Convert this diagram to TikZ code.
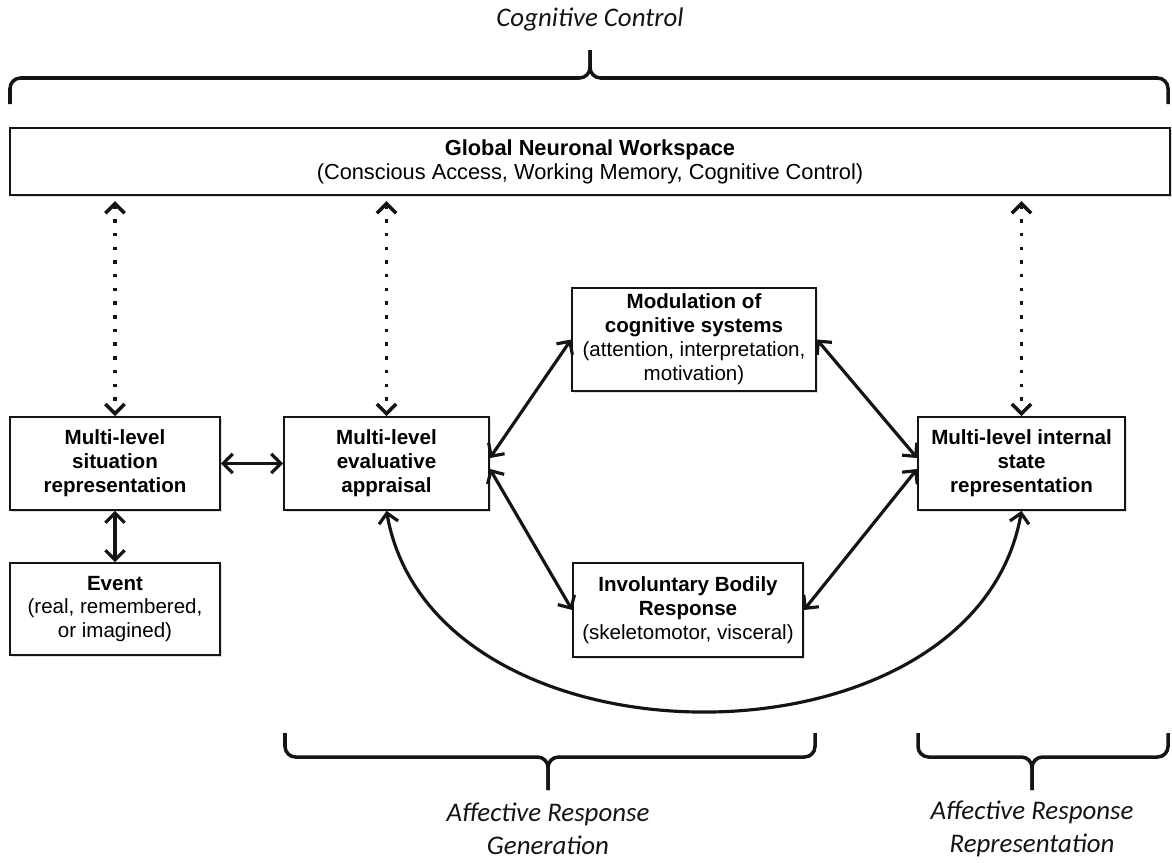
\documentclass[tikz,border=0pt]{standalone}
\usepackage{fontspec}
\setmainfont{Liberation Sans}
\newfontfamily\calibri{Carlito}
\usepackage{tikz}
\usetikzlibrary{arrows.meta, positioning, shadows}
\usepackage{xcolor}
\definecolor{inkblack}{RGB}{20, 20, 20}
\tikzset{
  blk/.style      = {rectangle, draw=inkblack, line width=1pt, fill=white, align=center, inner sep=2pt,
                     font=\fontsize{11.7}{13.6}\selectfont,
                     drop shadow={shadow xshift=1.3pt, shadow yshift=-1.3pt, opacity=0.25}},
  link/.style     = {{Straight Barb[length=5.5pt,width=11pt]}-{Straight Barb[length=5.5pt,width=11pt]}, line width=1.8pt, inkblack},
  dotlink/.style  = {link, line width=2pt, dash pattern=on 2pt off 5.8pt},
  bracepen/.style = {line width=2pt, inkblack, rounded corners=6pt},
  lbl/.style      = {font=\calibri\itshape\fontsize{15.3}{18.6}\selectfont, align=center, inkblack},
}

\begin{document}
\begin{tikzpicture}[x=0.02cm, y=-0.02cm]
  % 统一边界框
  \useasboundingbox (0,0) rectangle (1172,862);

  % 顶部：认知控制
  \node[lbl] (cogctl) at (590,19) {Cognitive Control};
  \draw[bracepen] (10,104) -- (10,78) -- (590,78) -- (590,50);
  \draw[bracepen] (1168,104) -- (1168,78) -- (590,78) -- (590,50);

  % 全局工作空间
  \node[blk, font=\fontsize{12.4}{13.6}\selectfont, minimum width=23.2cm, minimum height=1.34cm] (gnw) at (590,161.5)
    {\textbf{Global Neuronal Workspace}\\(Conscious Access, Working Memory, Cognitive Control)};

  % 中间一排
  \node[blk, minimum width=4.2cm, minimum height=1.86cm] (sit) at (115,463.5)
    {\textbf{Multi-level}\\\textbf{situation}\\\textbf{representation}};
  \node[blk, minimum width=4.1cm, minimum height=1.86cm] (appr) at (386.5,463.5)
    {\textbf{Multi-level}\\\textbf{evaluative}\\\textbf{appraisal}};
  \node[blk, minimum width=4.14cm, minimum height=1.86cm] (intl) at (1021.5,463.5)
    {\textbf{Multi-level internal}\\\textbf{state}\\\textbf{representation}};
  \node[blk, minimum width=4.88cm, minimum height=2.06cm] (modu) at (694,339.5)
    {\textbf{Modulation of}\\\textbf{cognitive systems}\\(attention, interpretation,\\motivation)};
  \node[blk, minimum width=4.6cm, minimum height=1.88cm] (invol) at (688,610)
    {\textbf{Involuntary Bodily}\\\textbf{Response}\\(skeletomotor, visceral)};
  \node[blk, minimum width=4.2cm, minimum height=1.84cm] (event) at (115,609)
    {\textbf{Event}\\(real, remembered,\\or imagined)};

  % 虚线双向箭头
  \draw[dotlink, shorten <=3pt] (gnw.south -| sit.north) -- (sit.north);
  \draw[dotlink, shorten <=3pt] (gnw.south -| appr.north) -- (appr.north);
  \draw[dotlink, shorten <=3pt] (gnw.south -| intl.north) -- (intl.north);

  % 实线双向箭头
  \draw[link] (sit.east) -- (appr.west);
  \draw[link] (sit.south) -- (event.north);
  \draw[link] (appr.3) -- (modu.west);
  \draw[link] (modu.east) -- (intl.177);
  \draw[link] (appr.-3) -- (invol.west);
  \draw[link] (invol.east) -- (intl.183);
  \draw[link] (appr.south) .. controls +(47,267) and +(-47,267) .. (intl.south);

  % 底部括号与标注
  \draw[bracepen] (285,733) -- (285,757) -- (548,757) -- (548,790);
  \draw[bracepen] (815,733) -- (815,757) -- (548,757) -- (548,790);
  \draw[bracepen] (918,733) -- (918,757) -- (1032,757) -- (1032,790);
  \draw[bracepen] (1168,733) -- (1168,757) -- (1032,757) -- (1032,790);
  \node[lbl] (gen) at (548,829) {Affective Response\\Generation};
  \node[lbl] (rep) at (1032,829) {Affective Response\\Representation};

\end{tikzpicture}
\end{document}
